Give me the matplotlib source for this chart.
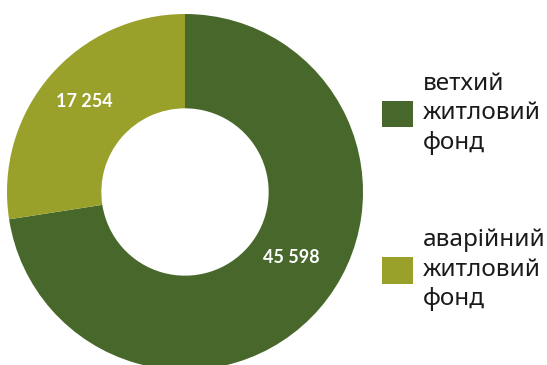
import matplotlib.pyplot as plt
import matplotlib.patches as mpatches
import numpy as np

# data
labels = ["ветхий\nжитловий\nфонд", "аварійний\nжитловий\nфонд"]
values = [45598, 17254]
value_text = ["45 598", "17 254"]
colors = ["#48682b", "#9aa12a"]

plt.rcParams['font.family'] = ['Noto Sans', 'DejaVu Sans']

W, H = 547, 365
fig = plt.figure(figsize=(W / 100, H / 100), dpi=100)

# pie axes placed by pixel center/radius
cx, cy, R = 185, 192, 178
ax = fig.add_axes([(cx - R) / W, (H - cy - R) / H, 2 * R / W, 2 * R / H])
wedges, _ = ax.pie(values, colors=colors, startangle=90, counterclock=False,
                   radius=1, wedgeprops=dict(width=0.53, linewidth=0))
ax.set_xlim(-1, 1)
ax.set_ylim(-1, 1)
ax.set_aspect('equal')
ax.axis('off')

# value labels (angle in degrees, radius fraction)
label_pos = [(-31.5, 0.70), (138, 0.76)]
for txt, (ang, r) in zip(value_text, label_pos):
    a = np.deg2rad(ang)
    ax.text(r * np.cos(a), r * np.sin(a), txt, ha='center', va='center',
            color='white', fontsize=13, fontweight='bold',
            family=['Lato', 'DejaVu Sans'])

handles = [mpatches.Patch(color=c, linewidth=0) for c in colors]
leg = fig.legend(handles, labels, loc='upper left',
                 bbox_to_anchor=(382 / W, 1 - 72 / H), frameon=False,
                 fontsize=17.5, handlelength=1.28, handleheight=1.28,
                 handletextpad=0.4, labelspacing=3.02, borderpad=0,
                 borderaxespad=0)
for t in leg.get_texts():
    t.set_linespacing(1.3)
    t.set_color('#1a1a1a')

fig.savefig("out.png", dpi=100)
